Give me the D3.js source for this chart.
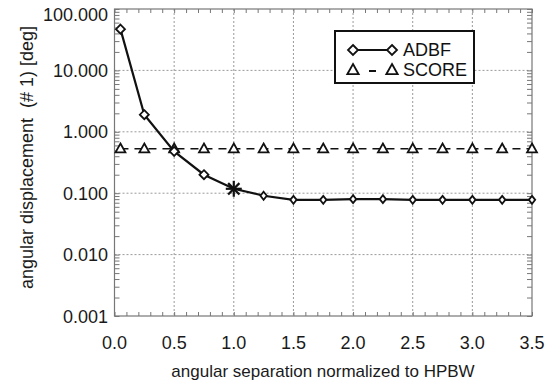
<!DOCTYPE html>
<html><head><meta charset="utf-8">
<script src="https://cdn.jsdelivr.net/npm/d3@7"></script>
<style>body{margin:0;background:#fff}svg{display:block;font-family:"Liberation Sans",Arial,sans-serif}</style>
</head><body><svg id="c" width="546" height="385"></svg>
<script>
const adbfX = [0.05,0.25,0.5,0.75,1.0,1.25,1.5,1.75,2.0,2.25,2.5,2.75,3.0,3.25,3.5];
const adbfY = [47,1.9,0.48,0.2,0.118,0.091,0.078,0.078,0.080,0.080,0.078,0.078,0.078,0.078,0.078];
const scoreX = [0.05,0.25,0.5,0.75,1.0,1.25,1.5,1.75,2.0,2.25,2.5,2.75,3.0,3.25,3.5];
const scoreY = [0.53,0.53,0.53,0.53,0.53,0.53,0.53,0.53,0.53,0.53,0.53,0.53,0.53,0.53,0.53];
const xTicks = [0,0.5,1,1.5,2,2.5,3,3.5];
const yTicks = [0.001,0.01,0.1,1,10,100];
const yTickLabels = ["0.001","0.010","0.100","1.000","10.000","100.000"];

const svg = d3.select("#c");
const L=114.5,R=532,T=9,B=316;
const x = d3.scaleLinear().domain([0,3.5]).range([L,R]);
const y = d3.scaleLog().domain([0.001,100]).range([B,T]);
const g = svg.append("g");

// grid
g.selectAll(".gx").data(xTicks.slice(1,-1)).enter().append("line")
 .attr("x1",d=>x(d)).attr("x2",d=>x(d)).attr("y1",T).attr("y2",B)
 .attr("stroke","#9a9a9a").attr("stroke-width",1).attr("stroke-dasharray","2,2");
g.selectAll(".gy").data(yTicks.slice(1,-1)).enter().append("line")
 .attr("y1",d=>y(d)).attr("y2",d=>y(d)).attr("x1",L).attr("x2",R)
 .attr("stroke","#9a9a9a").attr("stroke-width",1).attr("stroke-dasharray","2,2");

// frame
g.append("rect").attr("x",L).attr("y",T).attr("width",R-L).attr("height",B-T)
 .attr("fill","none").attr("stroke","#777").attr("stroke-width",1.2);

// axes ticks via d3 axes
const xMinor = d3.range(0,36).map(i=>i/10);
const axB = d3.axisBottom(x).tickValues(xMinor).tickSize(-4).tickFormat("");
const axT = d3.axisTop(x).tickValues(xMinor).tickSize(-4).tickFormat("");
g.append("g").attr("transform",`translate(0,${B})`).call(axB);
g.append("g").attr("transform",`translate(0,${T})`).call(axT);
const yMinor = [];
for (let e=-3;e<2;e++) for (let m=1;m<10;m++) yMinor.push(m*Math.pow(10,e));
yMinor.push(100);
const axL = d3.axisLeft(y).tickValues(yMinor).tickSize(-5).tickFormat("");
const axR = d3.axisRight(y).tickValues(yMinor).tickSize(-5).tickFormat("");
g.append("g").attr("transform",`translate(${L},0)`).call(axL);
g.append("g").attr("transform",`translate(${R},0)`).call(axR);
g.selectAll(".domain").remove();
g.selectAll(".tick line").attr("stroke","#777").attr("stroke-width",1);

// tick labels
const lab = svg.append("g").attr("font-size",18).attr("fill","#1a1a1a");
lab.selectAll(".xl").data(xTicks).enter().append("text")
 .attr("x",d=>x(d)).attr("y",349).attr("text-anchor","middle").text(d=>d.toFixed(1));
lab.selectAll(".yl").data(yTicks).enter().append("text")
 .attr("x",108).attr("y",(d,i)=>Math.max(y(d)+6.5,21)).attr("text-anchor","end").text((d,i)=>yTickLabels[i]);

// titles
svg.append("text").attr("x",323).attr("y",377).attr("text-anchor","middle").attr("font-size",17).attr("fill","#1a1a1a")
 .text("angular separation normalized to HPBW");
svg.append("text").attr("transform",`translate(33,157.5) rotate(-90)`).attr("text-anchor","middle").attr("font-size",18).attr("fill","#1a1a1a")
 .attr("xml:space","preserve").text("angular displacement  (# 1) [deg]");

// lines
const line = d3.line().x(d=>x(d[0])).y(d=>y(d[1]));
const sData = scoreX.map((v,i)=>[v,scoreY[i]]);
const aData = adbfX.map((v,i)=>[v,adbfY[i]]);
svg.append("path").datum(sData).attr("d",line).attr("fill","none").attr("stroke","#111").attr("stroke-width",1.6).attr("stroke-dasharray","8,6");
svg.append("path").datum(aData).attr("d",line).attr("fill","none").attr("stroke","#111").attr("stroke-width",2.2);

const tri = (cx,cy,s)=>`M${cx},${cy-s}L${cx+s*0.95},${cy+s*0.7}L${cx-s*0.95},${cy+s*0.7}Z`;
const dia = (cx,cy,w,h)=>`M${cx},${cy-h}L${cx+w},${cy}L${cx},${cy+h}L${cx-w},${cy}Z`;
svg.selectAll(".tri").data(sData).enter().append("path")
 .attr("d",d=>tri(x(d[0]),y(d[1]),5.2)).attr("fill","#fff").attr("stroke","#111").attr("stroke-width",1.8);
svg.selectAll(".dia").data(aData.filter(d=>d[0]!==1.0)).enter().append("path")
 .attr("d",d=>d[0]<=0.75?dia(x(d[0]),y(d[1]),4.5,4.5):dia(x(d[0]),y(d[1]),3.2,4))
 .attr("fill","#fff").attr("stroke","#111").attr("stroke-width",1.8);
// asterisk at 1.0
const st = aData.find(d=>d[0]===1.0);
const sx=x(st[0]), sy=y(st[1]);
[0,45,90,135].forEach(a=>{
  const r=8, rad=a*Math.PI/180;
  svg.append("line").attr("x1",sx-r*Math.cos(rad)).attr("y1",sy-r*Math.sin(rad))
   .attr("x2",sx+r*Math.cos(rad)).attr("y2",sy+r*Math.sin(rad)).attr("stroke","#111").attr("stroke-width",2.2);
});

// legend
const lg = svg.append("g");
lg.append("rect").attr("x",335).attr("y",31).attr("width",139).attr("height",52).attr("fill","#fff").attr("stroke","#111").attr("stroke-width",2);
lg.append("line").attr("x1",353).attr("x2",392).attr("y1",50).attr("y2",50).attr("stroke","#111").attr("stroke-width",2);
lg.append("path").attr("d",dia(353,50,5,5)).attr("fill","#fff").attr("stroke","#111").attr("stroke-width",1.8);
lg.append("path").attr("d",dia(392,50,5,5)).attr("fill","#fff").attr("stroke","#111").attr("stroke-width",1.8);
lg.append("line").attr("x1",369).attr("x2",376).attr("y1",71).attr("y2",71).attr("stroke","#111").attr("stroke-width",2);
lg.append("path").attr("d",tri(353,70,6)).attr("fill","#fff").attr("stroke","#111").attr("stroke-width",1.8);
lg.append("path").attr("d",tri(392,70,6)).attr("fill","#fff").attr("stroke","#111").attr("stroke-width",1.8);
lg.append("text").attr("x",403).attr("y",56).attr("font-size",18).attr("fill","#111").text("ADBF");
lg.append("text").attr("x",403).attr("y",76).attr("font-size",18).attr("fill","#111").text("SCORE");
</script></body></html>
